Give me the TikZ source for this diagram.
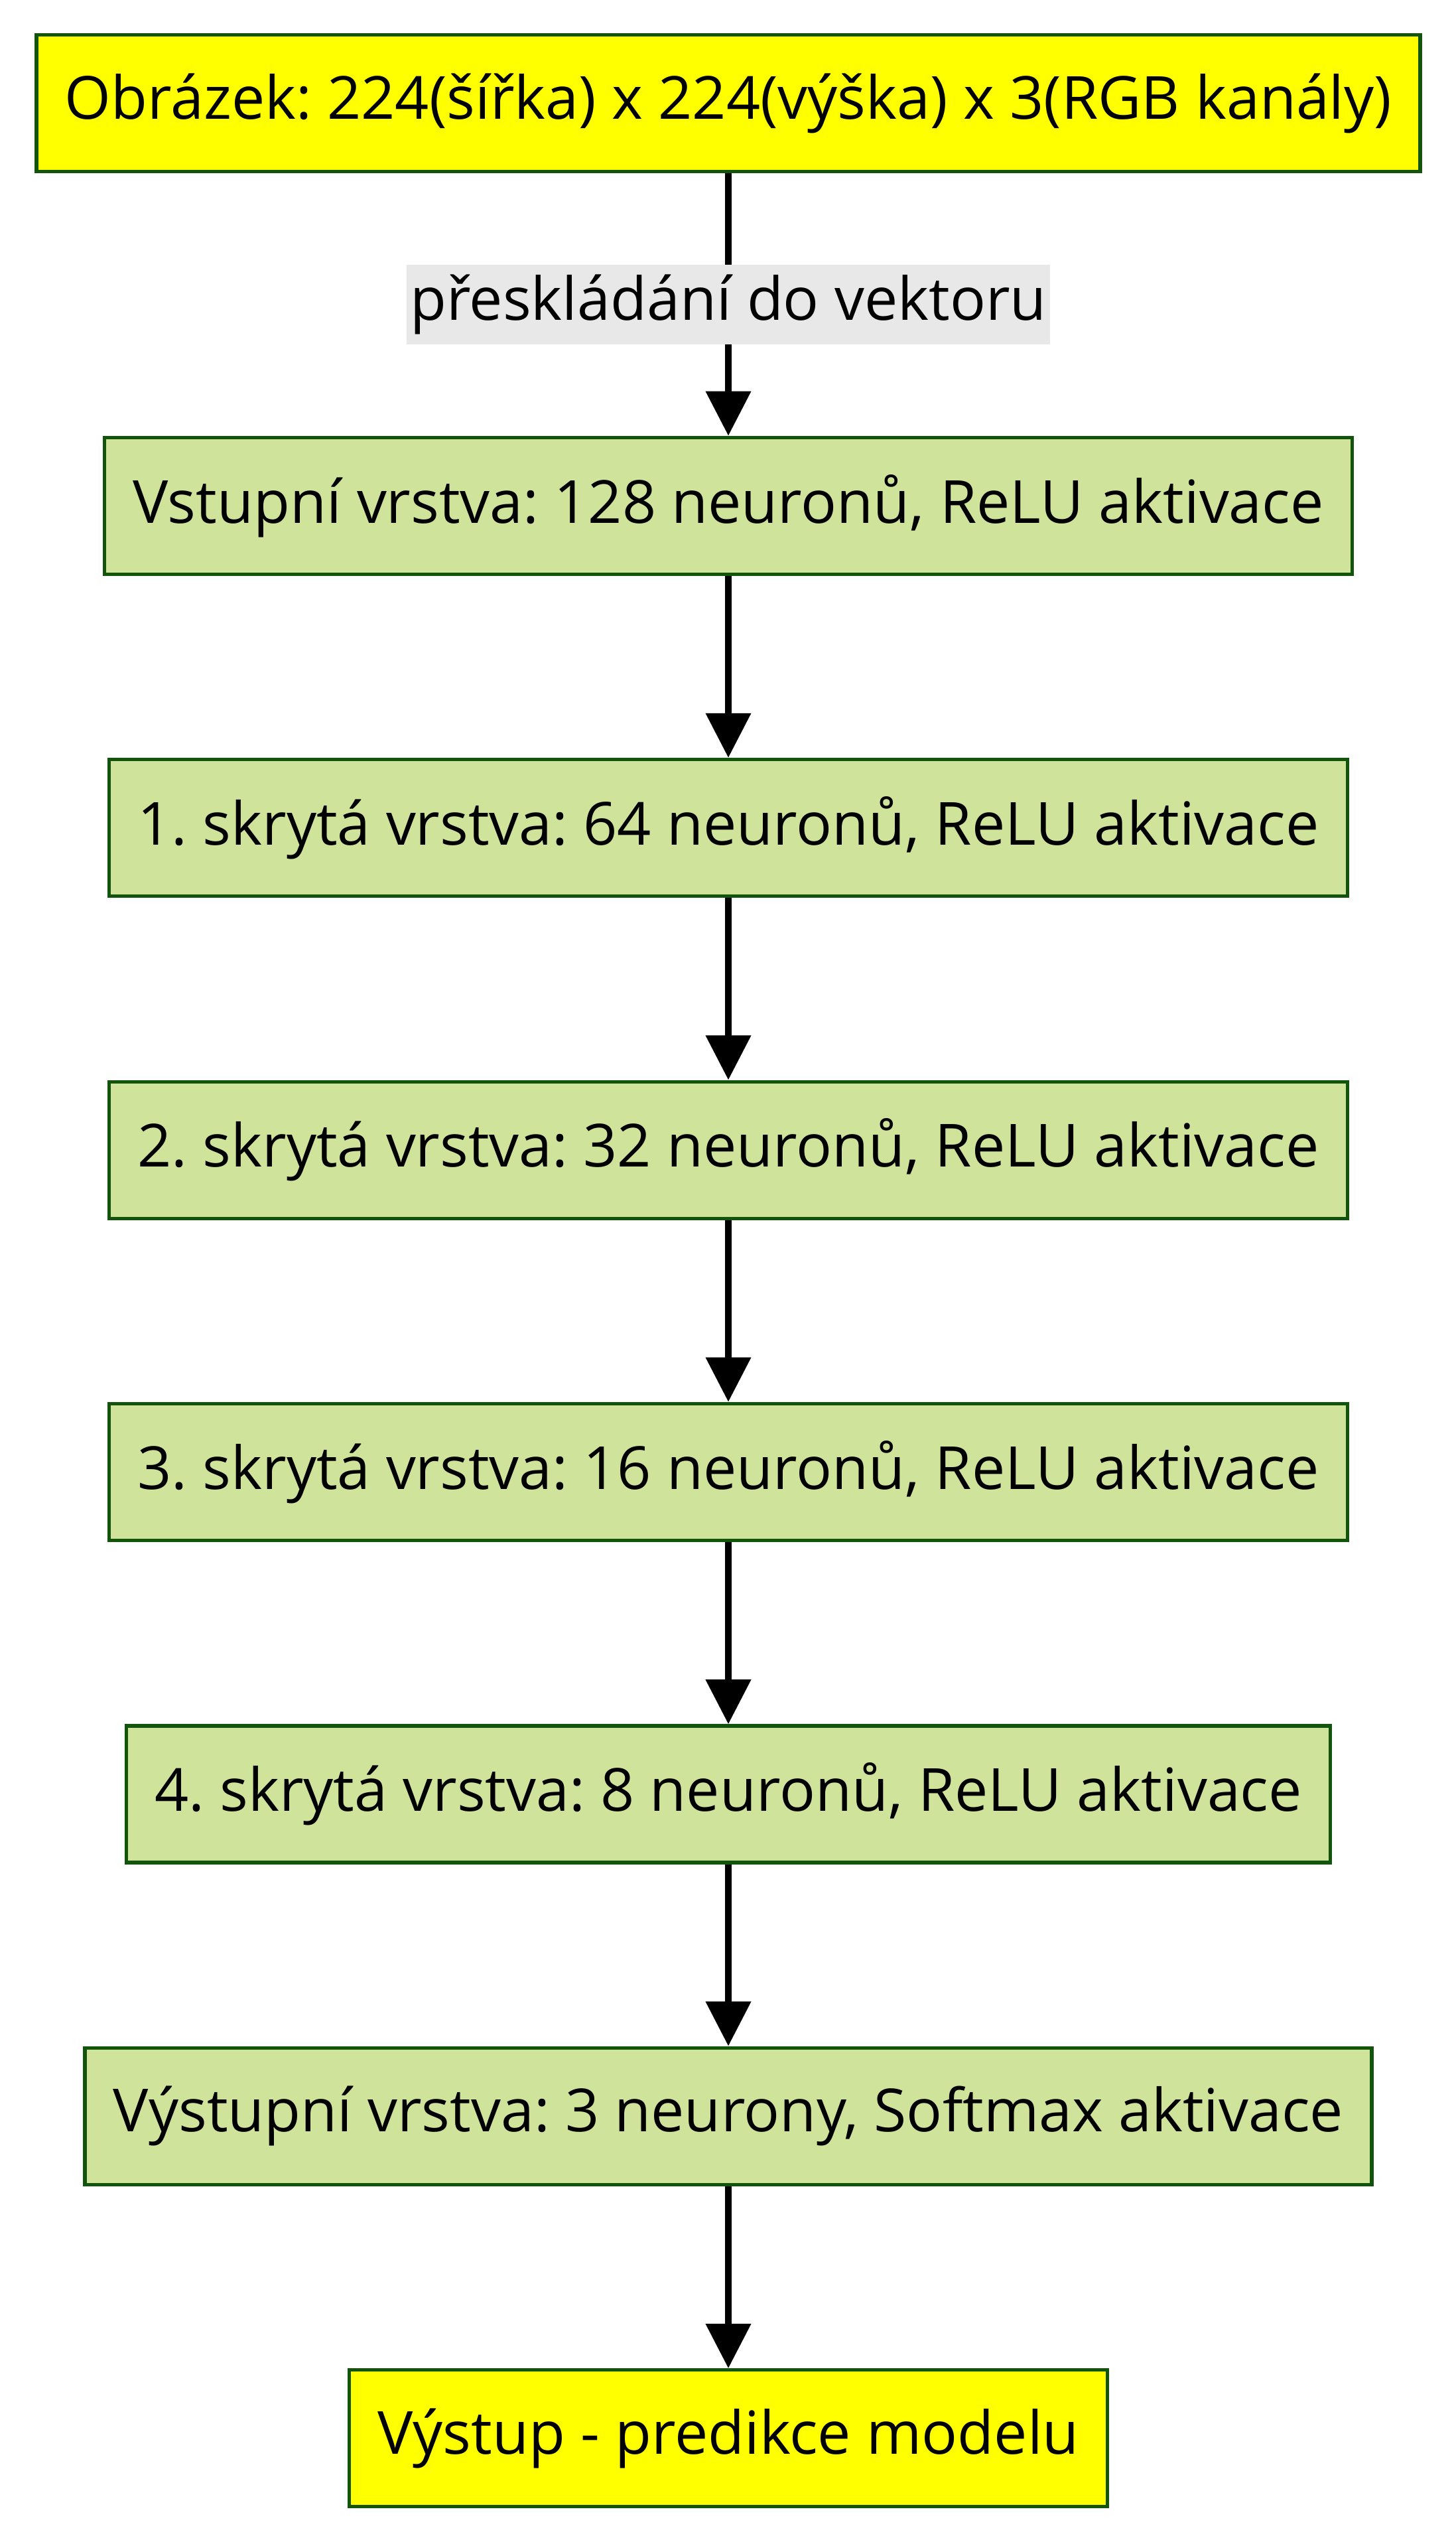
\documentclass[tikz,border=0pt]{standalone}
\usepackage{fontspec}
\setmainfont{Open Sans}
\frenchspacing
\usetikzlibrary{arrows.meta}
\definecolor{layergreen}{HTML}{CFE39B}
\definecolor{ioyellow}{HTML}{FFFF00}
\definecolor{boxline}{HTML}{13540C}
\definecolor{labelgray}{HTML}{E8E8E8}
\tikzset{
    line/.style={
        line width=2.7pt
    },
    arrow/.style={
        line,
        ->,
        > = {
            Triangle[length=16.8pt, width=16.5pt]
        }
    },
    layer/.style={
        draw=boxline,
        line width=1.3pt,
        fill=layergreen,
        minimum height=51.5pt,
        inner xsep=10.7pt,
        font=\fontsize{22.4}{27}\selectfont
    },
    io/.style={
        layer,
        fill=ioyellow
    },
    edgelabel/.style={
        fill=labelgray,
        inner xsep=1.2pt,
        inner ysep=0pt,
        minimum height=30pt,
        font=\fontsize{22.4}{27}\selectfont
    }
}

\begin{document}
\begin{tikzpicture}[x=1pt, y=1pt]
    \useasboundingbox (0, 0) rectangle (548.5, -960);
    % Input:
    \node [io] (image) at (274.5, -38.9) {Obrázek: 224(šířka) x 224(výška) x 3(RGB kanály)};
    % Layers:
    \node [layer] (input) at (274.5, -190.6) {Vstupní vrstva: 128 neuronů, ReLU aktivace};
    \node [layer] (hidden1) at (274.5, -311.9) {1. skrytá vrstva: 64 neuronů, ReLU aktivace};
    \node [layer] (hidden2) at (274.5, -433.3) {2. skrytá vrstva: 32 neuronů, ReLU aktivace};
    \node [layer] (hidden3) at (274.5, -554.6) {3. skrytá vrstva: 16 neuronů, ReLU aktivace};
    \node [layer] (hidden4) at (274.5, -676.0) {4. skrytá vrstva: 8 neuronů, ReLU aktivace};
    \node [layer] (output) at (274.5, -797.3) {Výstupní vrstva: 3 neurony, Softmax aktivace};
    % Prediction:
    \node [io] (prediction) at (274.5, -918.7) {Výstup - predikce modelu};
    % Arrows:
    \draw [arrow] (image) -- node [edgelabel, pos=0.5] (flatten) {přeskládání do vektoru} (input);
    \draw [arrow] (input) -- (hidden1);
    \draw [arrow] (hidden1) -- (hidden2);
    \draw [arrow] (hidden2) -- (hidden3);
    \draw [arrow] (hidden3) -- (hidden4);
    \draw [arrow] (hidden4) -- (output);
    \draw [arrow] (output) -- (prediction);
\end{tikzpicture}
\end{document}
